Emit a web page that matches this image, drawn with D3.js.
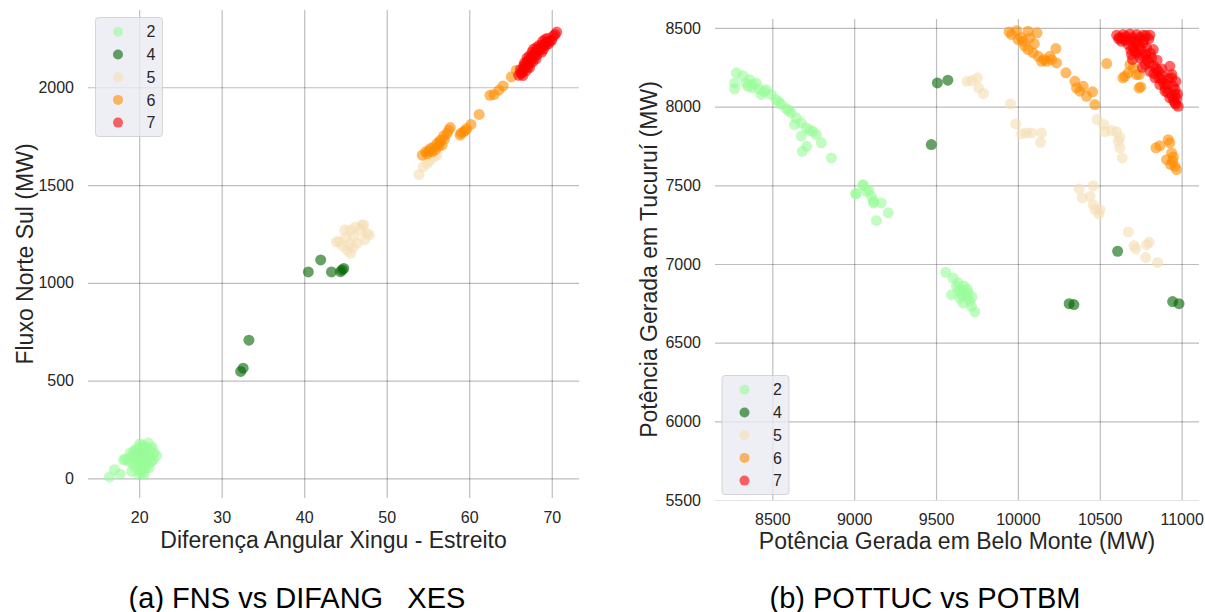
<!DOCTYPE html>
<html>
<head>
<meta charset="utf-8">
<script src="https://cdn.jsdelivr.net/npm/d3@7/dist/d3.min.js"></script>
<style>
  html, body { margin: 0; padding: 0; background: #fff; }
  svg { display: block; font-family: "Liberation Sans", Arial, Helvetica, sans-serif; }
</style>
</head>
<body>
<svg id="chart" width="1205" height="612"></svg>
<script>
// Operating-point classes and their colours
const classes = ["2", "4", "5", "6", "7"];
const classColors = ["#98FB98", "#006400", "#F5DEB3", "#FF8C00", "#FF0000"];

// Panel (a): angle difference Xingu - Estreito (deg) vs North-South flow (MW)
const fnsXTicks = [20, 30, 40, 50, 60, 70];
const fnsYTicks = [0, 500, 1000, 1500, 2000];
const fnsClass2 = [[16.4,8],[17.0,45],[17.7,23],[19.1,36],[18.3,100],[18.6,90],[18.9,130],[19.3,118],[19.6,150],[20.1,178],[20.5,168],[21.1,181],[20.8,160],[21.4,150],[21.8,130],[22.1,116],[21.5,87],[21.0,70],[20.7,45],[20.3,30],[20.0,19],[19.7,79],[20.5,113],[20.2,140],[19.9,100],[20.9,100],[21.3,110],[19.5,60],[20.4,70],[20.6,20],[19.0,110],[20.0,160],[18.1,95],[21.7,95],[20.3,55],[19.4,140],[19.8,125],[20.6,140],[21.0,125],[20.2,90],[20.8,80],[21.2,55],[20.0,45],[19.2,75],[21.6,160],[20.4,150]];
const fnsClass4 = [[32.3,547],[32.6,564],[33.3,707],[40.5,1056],[42.0,1117],[43.3,1056],[44.4,1057],[44.8,1074],[44.6,1066]];
const fnsClass5 = [[44.2,1210],[45.2,1168],[45.6,1270],[47.0,1296],[47.6,1253],[46.4,1202],[43.9,1210],[45.6,1151],[47.2,1296],[47.9,1245],[44.9,1270],[45.0,1230],[46.0,1240],[46.8,1270],[45.5,1200],[44.6,1190],[46.2,1285],[47.3,1220],[45.9,1180],[53.9,1554],[54.4,1593],[54.9,1610],[55.7,1644],[56.1,1653],[55.2,1625]];
const fnsClass6 = [[54.3,1653],[54.7,1670],[55.3,1687],[55.7,1695],[56.1,1713],[56.5,1729],[56.9,1751],[57.3,1764],[57.7,1794],[56.7,1704],[55.5,1670],[54.9,1660],[55.9,1680],[56.3,1700],[57.0,1735],[58.9,1755],[59.3,1772],[59.7,1789],[60.2,1810],[59.0,1765],[61.2,1861],[62.5,1959],[63.0,1963],[63.6,1985],[64.1,2007],[65.1,2053],[65.7,2087],[66.2,2075],[55.1,1675],[56.4,1720],[57.5,1780],[59.5,1778]];
const fnsClass7 = [[66.0,2061],[66.4,2078],[66.8,2112],[67.2,2138],[67.6,2160],[68.0,2180],[68.4,2197],[68.9,2211],[69.4,2231],[70.0,2240],[70.6,2282],[66.3,2070],[66.6,2095],[66.9,2085],[67.1,2105],[67.4,2125],[67.0,2130],[67.5,2145],[67.8,2150],[67.9,2170],[68.2,2165],[68.3,2185],[68.6,2190],[68.7,2205],[69.0,2195],[69.1,2220],[69.3,2215],[69.6,2222],[69.8,2238],[70.2,2262],[66.5,2060],[67.3,2100],[68.1,2145],[68.8,2180],[67.7,2130],[66.7,2125],[67.6,2180],[68.5,2215],[69.5,2250],[66.2,2090],[66.6,2110],[67.0,2150],[67.3,2160],[67.8,2195],[68.2,2205],[68.9,2235],[69.2,2245],[70.4,2270]];

// Panel (b): generation at Belo Monte (MW) vs generation at Tucurui (MW)
const potXTicks = [8500, 9000, 9500, 10000, 10500, 11000];
const potYTicks = [5500, 6000, 6500, 7000, 7500, 8000, 8500];
const potClass2 = [[8280,8215],[8270,8151],[8270,8113],[8320,8197],[8361,8172],[8381,8140],[8402,8151],[8351,8129],[8340,8150],[8375,8120],[8420,8110],[8433,8077],[8463,8108],[8494,8077],[8524,8045],[8555,8013],[8586,7986],[8616,7960],[8647,7928],[8677,7897],[8708,7865],[8748,7843],[8769,7822],[8636,7886],[8677,7812],[8711,7748],[8683,7716],[8800,7770],[8861,7674],[8730,7850],[8600,7975],[8540,8030],[8450,8095],[9054,7504],[9013,7447],[9075,7462],[9105,7430],[9119,7388],[9136,7275],[9008,7447],[9055,7500],[9090,7468],[9118,7398],[9165,7388],[9208,7325],[9559,6947],[9604,6911],[9635,6880],[9594,6805],[9655,6837],[9686,6794],[9706,6763],[9737,6695],[9665,6752],[9625,6858],[9696,6816],[9716,6731],[9645,6784],[9670,6860],[9690,6840],[9640,6830],[9720,6790],[9660,6800]];
const potClass4 = [[9508,8151],[9572,8168],[9471,7759],[10609,7081],[10313,6748],[10342,6742],[10945,6761],[10984,6748]];
const potClass5 = [[9689,8161],[9718,8166],[9753,8183],[9760,8119],[9790,8083],[9955,8017],[9987,7890],[10022,7827],[10052,7833],[10083,7833],[10144,7833],[10138,7773],[10484,7918],[10525,7886],[10531,7840],[10572,7848],[10603,7840],[10623,7805],[10613,7780],[10623,7738],[10637,7674],[10374,7477],[10460,7498],[10393,7420],[10440,7430],[10460,7377],[10501,7345],[10495,7318],[10471,7345],[10674,7204],[10709,7117],[10721,7096],[10786,7123],[10802,7138],[10780,7042],[10853,7010]];
const potClass6 = [[9946,8475],[9961,8458],[9992,8483],[10001,8426],[10032,8415],[10062,8479],[10073,8437],[10117,8469],[10042,8384],[10062,8363],[10093,8342],[10124,8320],[10144,8288],[10175,8288],[10205,8299],[10232,8369],[10236,8278],[10195,8320],[10020,8440],[10100,8400],[10160,8300],[10293,8215],[10348,8161],[10358,8119],[10378,8098],[10399,8129],[10419,8066],[10456,8094],[10470,8013],[10542,8274],[10653,8193],[10684,8267],[10704,8246],[10741,8204],[10751,8125],[10674,8215],[10641,8183],[10740,8119],[10724,8204],[10843,7738],[10867,7752],[10918,7790],[10928,7770],[10908,7663],[10939,7706],[10945,7653],[10959,7621],[10969,7600],[10933,7632],[10950,7680]];
const potClass7 = [[10603,8454],[10643,8458],[10684,8462],[10725,8458],[10765,8454],[10806,8454],[10782,8452],[10620,8440],[10660,8445],[10700,8440],[10745,8440],[10633,8415],[10674,8395],[10704,8373],[10725,8342],[10745,8310],[10776,8267],[10806,8225],[10837,8183],[10867,8140],[10898,8098],[10928,8056],[10959,8024],[10979,8002],[10827,8363],[10817,8310],[10857,8225],[10928,8256],[10939,8183],[10949,8129],[10959,8077],[10878,8172],[10786,8373],[10765,8405],[10694,8331],[10720,8400],[10750,8360],[10790,8300],[10830,8260],[10880,8200],[10910,8140],[10960,8110],[10970,8050],[10655,8420],[10700,8300],[10760,8250],[10615,8430],[10640,8435],[10680,8425],[10710,8420],[10735,8415],[10770,8425],[10800,8430],[10690,8360],[10715,8355],[10740,8385],[10780,8335],[10810,8340],[10760,8325],[10800,8280],[10850,8295],[10845,8240],[10880,8240],[10890,8150],[10920,8180],[10915,8090],[10940,8070],[10950,8040],[10965,8160],[10975,8080],[10830,8210],[10860,8185],[10900,8120],[10940,8205],[10965,8015]];

const fnsSeries = [fnsClass2, fnsClass4, fnsClass5, fnsClass6, fnsClass7];
const potSeries = [potClass2, potClass4, potClass5, potClass6, potClass7];

const svg = d3.select("#chart");
const textColor = "#262626";

function drawPanel(cfg) {
  const x = d3.scaleLinear().domain(cfg.xDomain).range([cfg.left, cfg.right]);
  const y = d3.scaleLinear().domain(cfg.yDomain).range([cfg.bottom, cfg.top]);
  const g = svg.append("g");

  // grid + tick labels via axes
  const xAxis = g.append("g")
    .attr("transform", `translate(0,${cfg.bottom})`)
    .call(d3.axisBottom(x).tickValues(cfg.xTicks).tickSize(-(cfg.bottom - cfg.top))
      .tickPadding(cfg.xPad).tickFormat(d3.format("d")));
  const yAxis = g.append("g")
    .attr("transform", `translate(${cfg.left},0)`)
    .call(d3.axisLeft(y).tickValues(cfg.yTicks).tickSize(-(cfg.right - cfg.left))
      .tickPadding(14).tickFormat(d3.format("d")));
  [xAxis, yAxis].forEach(a => {
    a.select(".domain").remove();
    a.selectAll(".tick line").attr("stroke", "#000").attr("stroke-opacity", 0.26).attr("stroke-width", 1.2);
    a.selectAll(".tick text").attr("fill", textColor).attr("font-size", 16)
      .attr("font-family", "'Liberation Sans', Arial, sans-serif");
  });
  // a grid line lying on the frame edge shows at half strength
  yAxis.selectAll(".tick line").filter(d => y(d) >= cfg.bottom - 0.5).attr("stroke-opacity", 0.1);

  // scatter points, clipped to the plot area
  const clipId = "clip-" + cfg.id;
  svg.append("clipPath").attr("id", clipId).append("rect")
    .attr("x", cfg.left).attr("y", cfg.top)
    .attr("width", cfg.right - cfg.left).attr("height", cfg.bottom - cfg.top);
  const pts = g.append("g").attr("clip-path", `url(#${clipId})`);
  cfg.series.forEach((data, i) => {
    pts.append("g").selectAll("circle").data(data).join("circle")
      .attr("cx", d => x(d[0])).attr("cy", d => y(d[1]))
      .attr("r", 5.5)
      .attr("fill", classColors[i]).attr("fill-opacity", 0.6);
  });

  // legend
  const lg = g.append("g").attr("transform", `translate(${cfg.legend[0]},${cfg.legend[1]})`);
  lg.append("rect").attr("x", 0).attr("y", 0).attr("width", 67).attr("height", 119)
    .attr("rx", 3).attr("fill", "#eaeaf2").attr("fill-opacity", 0.8)
    .attr("stroke", "#cccccc").attr("stroke-opacity", 0.8);
  classes.forEach((c, i) => {
    lg.append("circle").attr("cx", 22.5).attr("cy", 14.3 + i * 22.7).attr("r", 5)
      .attr("fill", classColors[i]).attr("fill-opacity", 0.6);
    lg.append("text").attr("x", 51).attr("y", 14.3 + i * 22.7).attr("dy", "0.35em")
      .attr("font-size", 16).attr("fill", textColor).text(c);
  });

  // axis titles
  g.append("text").attr("x", (cfg.left + cfg.right) / 2).attr("y", cfg.xLabelY)
    .attr("text-anchor", "middle").attr("font-size", 23).attr("fill", textColor).text(cfg.xLabel);
  g.append("text").attr("transform", `translate(${cfg.yLabelX},${(cfg.top + cfg.bottom) / 2}) rotate(-90)`)
    .attr("text-anchor", "middle").attr("font-size", 23).attr("fill", textColor).text(cfg.yLabel);

  // sub-figure caption
  g.append("text").attr("x", cfg.captionX).attr("y", 608)
    .attr("text-anchor", "middle").attr("font-size", 29).attr("fill", "#000").text(cfg.caption);
}

drawPanel({
  id: "fns", left: 88, right: 579, top: 10, bottom: 498,
  xDomain: [13.8, 73.3], yDomain: [-100, 2395],
  xTicks: fnsXTicks, yTicks: fnsYTicks, xPad: 14,
  series: fnsSeries, legend: [95.5, 17.5],
  xLabel: "Diferença Angular Xingu - Estreito", xLabelY: 548,
  yLabel: "Fluxo Norte Sul (MW)", yLabelX: 33,
  caption: "(a) FNS vs DIFANG _XES", captionX: 297
});

drawPanel({
  id: "pot", left: 715, right: 1199, top: 19, bottom: 500,
  xDomain: [8150, 11106], yDomain: [5500, 8557],
  xTicks: potXTicks, yTicks: potYTicks, xPad: 14,
  series: potSeries, legend: [722, 375.5],
  xLabel: "Potência Gerada em Belo Monte (MW)", xLabelY: 549,
  yLabel: "Potência Gerada em Tucuruí (MW)", yLabelX: 657,
  caption: "(b) POTTUC vs POTBM", captionX: 925
});
</script>
</body>
</html>
